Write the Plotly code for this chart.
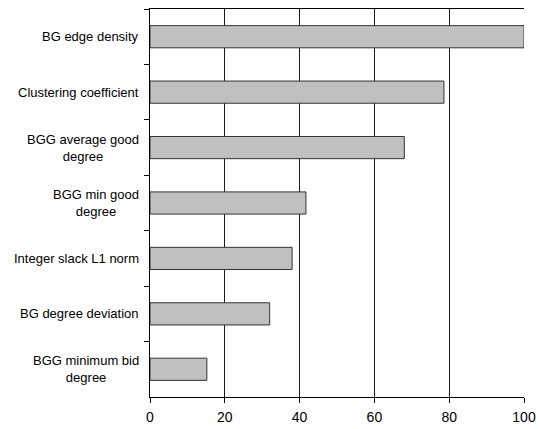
import plotly.graph_objects as go

# Feature importance values, listed from the top row down
features = [
    "BG edge density",
    "Clustering coefficient",
    "BGG average good<br>degree",
    "BGG min good<br>degree",
    "Integer slack L1 norm",
    "BG degree deviation",
    "BGG minimum bid<br>degree",
]
importance = [100, 78.6, 68, 41.7, 38, 32, 15.2]
x_ticks = [0, 20, 40, 60, 80, 100]

font_family = "Liberation Sans, Arial, sans-serif"

fig = go.Figure(
    go.Bar(
        x=importance,
        y=features,
        orientation="h",
        marker=dict(color="#C0C0C0", line=dict(color="#333333", width=1)),
        width=0.4,
    )
)

# Category labels as centred multi-line annotations left of the axis
for name in features:
    fig.add_annotation(
        x=0, xref="paper", y=name, yref="y",
        text=name, showarrow=False,
        xanchor="right", xshift=-9, align="center",
        font=dict(family=font_family, size=13, color="#000000"),
    )

fig.update_layout(
    width=539, height=429,
    margin=dict(l=150, r=15, t=9, b=32),
    paper_bgcolor="white", plot_bgcolor="white",
    showlegend=False,
    font=dict(family=font_family, size=13, color="#000000"),
    xaxis=dict(
        range=[0, 100], tickvals=x_ticks,
        showgrid=True, gridcolor="#1a1a1a", gridwidth=1,
        showline=True, linecolor="#000000", linewidth=1, mirror=True,
        ticks="outside", ticklen=5, tickcolor="#000000",
        ticklabelstandoff=2, ticklabeloverflow="allow",
        tickfont=dict(size=14),
        automargin=False,
        zeroline=False, fixedrange=True,
    ),
    yaxis=dict(
        categoryorder="array", categoryarray=features,
        autorange="reversed",
        showticklabels=False, showgrid=False,
        showline=True, linecolor="#000000", linewidth=1,
        ticks="outside", tickson="boundaries", ticklen=5, tickcolor="#000000",
        automargin=False,
        zeroline=False,
    ),
)

fig.write_html("out.html")
